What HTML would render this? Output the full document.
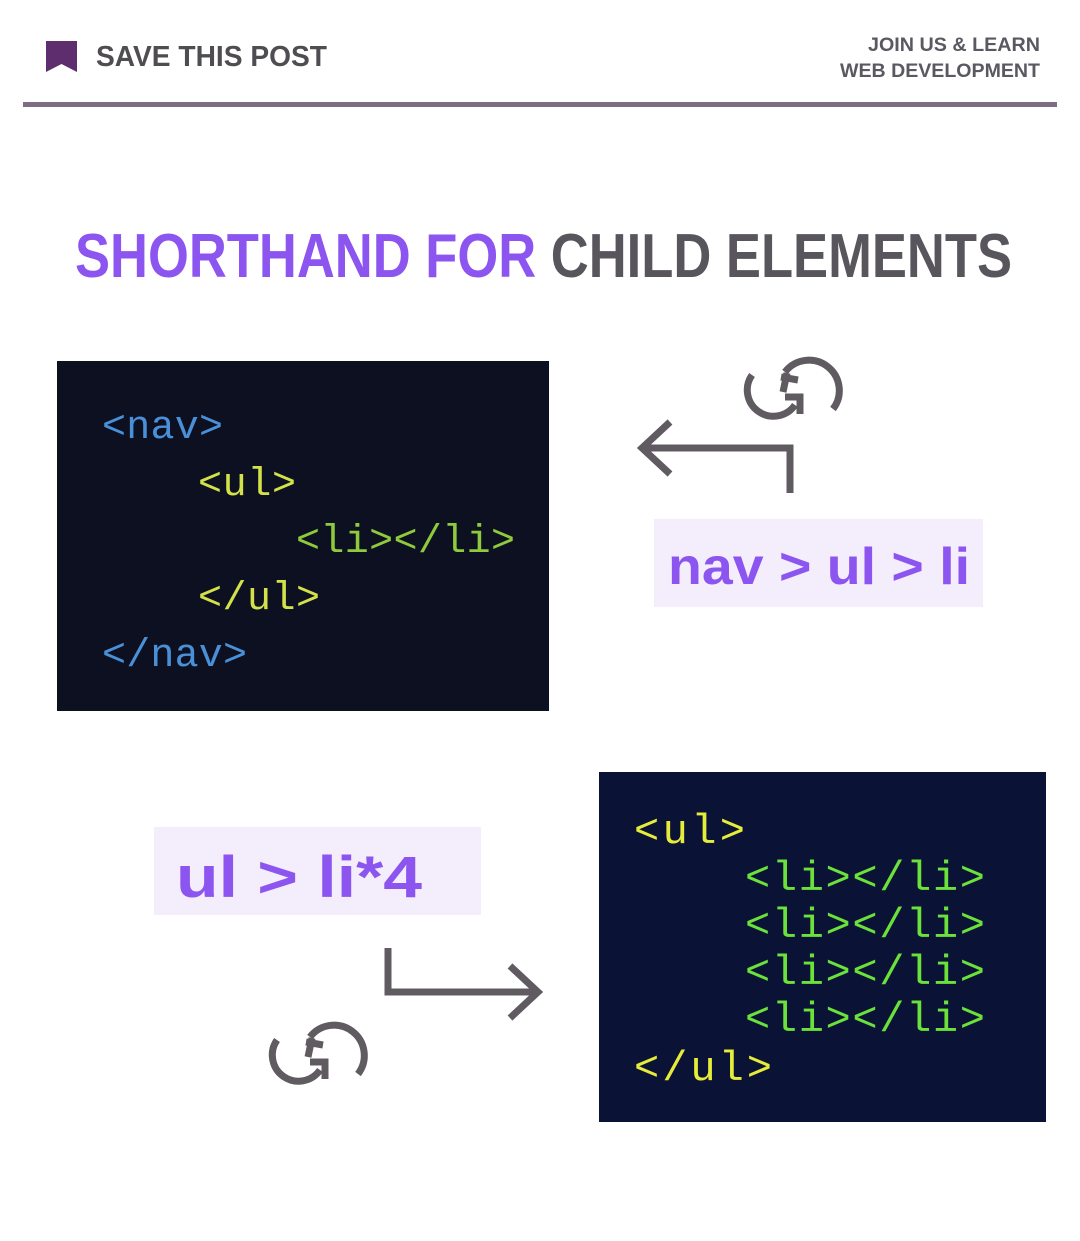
<!DOCTYPE html>
<html><head><meta charset="utf-8"><style>
body{margin:0;width:1080px;height:1236px;background:#fff;overflow:hidden;font-family:"Liberation Sans",sans-serif}
</style></head><body>
<svg width="1080" height="1236" viewBox="0 0 1080 1236" xmlns="http://www.w3.org/2000/svg">
<path d="M46 41 H77 V72 L61.5 64 L46 72 Z" fill="#5e2d6e"/>
<text x="96" y="66" font-family="Liberation Sans" font-weight="bold" font-size="29" fill="#4f4d52" textLength="231" lengthAdjust="spacingAndGlyphs">SAVE THIS POST</text>
<text x="1040" y="51" text-anchor="end" font-family="Liberation Sans" font-weight="bold" font-size="19" fill="#5a5860" textLength="172" lengthAdjust="spacingAndGlyphs">JOIN US &amp; LEARN</text>
<text x="1040" y="77" text-anchor="end" font-family="Liberation Sans" font-weight="bold" font-size="19" fill="#5a5860" textLength="200" lengthAdjust="spacingAndGlyphs">WEB DEVELOPMENT</text>
<rect x="23" y="102" width="1034" height="5" fill="#7f6b83"/>
<text x="75" y="277" font-family="Liberation Sans" font-weight="bold" font-size="62" textLength="937" lengthAdjust="spacingAndGlyphs"><tspan fill="#8c55f0">SHORTHAND FOR </tspan><tspan fill="#58555c">CHILD ELEMENTS</tspan></text>

<rect x="57" y="361" width="492" height="350" fill="#0c1020"/>
<g font-family="Liberation Mono,DejaVu Sans Mono,monospace" font-size="40" lengthAdjust="spacingAndGlyphs">
<text x="102" y="438" fill="#4a90d8" textLength="121">&lt;nav&gt;</text>
<text x="198" y="495" fill="#d4e24a" textLength="98">&lt;ul&gt;</text>
<text x="296" y="552" fill="#8fca3c" textLength="219">&lt;li&gt;&lt;/li&gt;</text>
<text x="198" y="609" fill="#d4e24a" textLength="122">&lt;/ul&gt;</text>
<text x="102" y="666" fill="#4a90d8" textLength="145">&lt;/nav&gt;</text>
</g>

<rect x="599" y="772" width="447" height="350" fill="#0a1236"/>
<g font-family="Liberation Mono,DejaVu Sans Mono,monospace" font-size="42" lengthAdjust="spacingAndGlyphs">
<text x="634" y="843" fill="#e6ec3a" textLength="111">&lt;ul&gt;</text>
<text x="745" y="890" fill="#6be23a" textLength="240">&lt;li&gt;&lt;/li&gt;</text>
<text x="745" y="937" fill="#6be23a" textLength="240">&lt;li&gt;&lt;/li&gt;</text>
<text x="745" y="984" fill="#6be23a" textLength="240">&lt;li&gt;&lt;/li&gt;</text>
<text x="745" y="1031" fill="#6be23a" textLength="240">&lt;li&gt;&lt;/li&gt;</text>
<text x="634" y="1080" fill="#e6ec3a" textLength="138">&lt;/ul&gt;</text>
</g>

<rect x="654" y="519" width="329" height="88" fill="#f3edfc"/>
<text x="668" y="584" font-family="Liberation Sans" font-weight="bold" font-size="52" fill="#8c55f0" textLength="302" lengthAdjust="spacingAndGlyphs">nav &gt; ul &gt; li</text>
<rect x="154" y="827" width="327" height="88" fill="#f3edfc"/>
<text x="176" y="897" font-family="Liberation Sans" font-weight="bold" font-size="58" fill="#8c55f0" textLength="246" lengthAdjust="spacingAndGlyphs">ul &gt; li*4</text>

<g stroke="#5f5b60" stroke-width="7" fill="none">
<path d="M790 493 V448 H642"/>
<path d="M670 422 L642 448 L670 474"/>
<path d="M388 948 V992 H538"/>
<path d="M510 966 L538 992 L510 1018"/>
<path d="M752 375 A23 23 0 0 0 795 405"/>
<path d="M785 372 A23 23 0 0 1 833 409"/>
<path d="M787 373 L783 392 M781 377 L798 380"/>
<path d="M785 397 L800 397 L800 414"/>
<path d="M277 1040 A23 23 0 0 0 320 1070"/>
<path d="M310 1037 A23 23 0 0 1 358 1074"/>
<path d="M312 1038 L308 1057 M306 1042 L323 1045"/>
<path d="M310 1062 L325 1062 L325 1079"/>
</g>
</svg>
</body></html>
